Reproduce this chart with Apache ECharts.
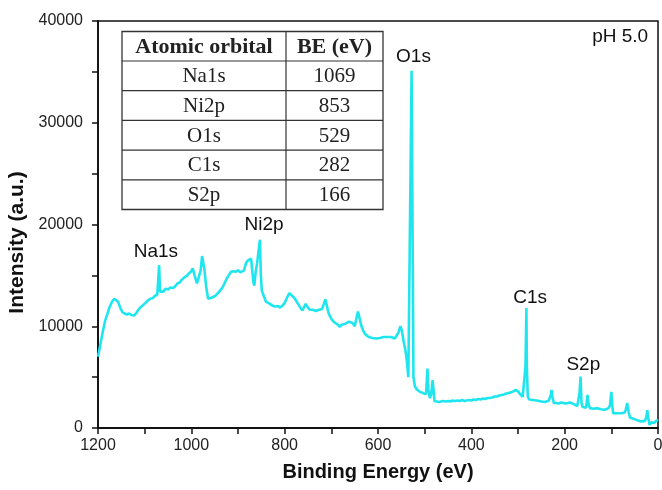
<!DOCTYPE html>
<html>
<head>
<meta charset="utf-8">
<script src="https://cdn.jsdelivr.net/npm/echarts@6/dist/echarts.min.js"></script>
<style>html,body{margin:0;padding:0;background:#fff;}#c{width:662px;height:490px;}</style>
</head>
<body>
<div id="c"></div>
<script>
// Binding energy (eV) and intensity (a.u.)
var bindingEnergy = [1200,1195,1190,1185,1180,1175,1170,1165,1161,1157,1153,1148,1143,1138,1133,1128,1123,1118,1113,1108,1103,1098,1093,1088,1083,1078,1073,1070,1069,1068,1067,1064,1060,1055,1050,1045,1040,1035,1030,1025,1020,1015,1010,1005,1000,997,993,988,984,980,977,975,972,968,964,961,957,953,948,944,940,935,930,925,920,915,910,905,900,895,891,887,883,879,876,872,869,867,865,862,859,856,853,851,849,845,840,835,830,825,820,815,810,805,800,795,790,786,782,778,774,770,766,762,758,755,751,747,743,738,733,728,724,720,716,713,710,706,702,698,694,690,686,682,678,674,670,666,662,658,654,650,647,643,640,636,632,628,624,620,616,612,608,604,600,596,592,588,584,580,576,572,568,564,560,556,552,549,545,541,538,535,531,528,524,521,517,512,507,502,497,494,492,489,486,483,481,479,475,470,465,460,455,450,445,440,435,430,425,420,415,410,405,400,395,390,385,380,375,370,365,360,355,350,345,340,335,330,325,320,315,310,305,300,295,290,286,284,282,281,279,276,272,268,264,260,255,250,246,242,238,234,230,228,226,223,218,213,208,203,198,193,188,183,178,173,170,168,166,164,162,158,154,151,149,146,142,138,134,130,126,122,118,114,110,106,103,100,98,96,92,88,84,80,76,72,69,66,63,60,56,52,48,44,40,36,32,28,25,23,21,18,15,12,8,4,0];
var intensity = [7000,8200,9400,10500,11200,11900,12400,12700,12700,12400,11900,11400,11250,11150,11250,11100,11050,11300,11650,11900,12100,12300,12550,12700,12750,13000,13100,13250,16000,15900,13400,13500,13400,13700,13600,13800,13750,13900,14200,14300,14600,14800,14950,15200,15400,15700,15000,14200,14100,15500,16900,16950,15600,13800,12700,12550,12800,12700,13000,13200,13350,13700,14100,14600,15000,15350,15400,15350,15500,15300,15200,15500,16200,16450,16300,16650,16600,14300,14000,15400,16200,16300,18500,15000,13500,13000,12400,12300,12150,12000,11950,12000,11850,12000,12300,12800,13250,13200,12900,12700,12400,12100,11800,11550,11900,12200,11900,11650,11550,11600,11500,11600,11550,11700,12200,12650,12100,11300,10900,10600,10400,10300,10150,9950,10150,10300,10250,10400,10450,10300,10300,10000,10600,11450,10900,10100,9600,9250,9100,8950,8900,8850,8950,8800,8950,8850,9000,8950,9050,8950,9000,8950,8850,8800,8850,9400,10000,9600,8500,7600,6500,5000,4900,35100,5000,4100,3800,3600,3500,3400,3350,5850,3800,2950,3300,4700,3800,2650,2600,2550,2600,2650,2600,2650,2600,2700,2650,2700,2650,2750,2650,2700,2750,2700,2800,2750,2850,2800,2900,2850,2950,2950,3000,3100,3100,3200,3250,3300,3400,3450,3500,3600,3750,3600,3300,3050,2950,6000,11800,6000,3100,2800,2850,2750,2800,2700,2650,2600,2600,2550,2600,2700,3200,3750,3000,2450,2450,2400,2500,2450,2400,2450,2500,2400,2300,2150,2100,3500,5050,2500,2100,2150,2000,3250,2400,1950,2000,1900,1950,1950,1900,1850,1900,1800,1850,1950,2200,3550,2200,1450,1500,1450,1400,1450,1400,1500,1800,2450,1600,1000,950,900,800,750,700,650,650,700,1100,1750,1000,300,550,600,500,700,800];

// Peak annotations (label text and where it sits, in data units)
var peakLabels = ['Na1s','Ni2p','O1s','C1s','S2p','pH 5.0'];
var peakLabelBE = [1076,844,524,274,160,81];
var peakLabelY = [17290,20010,36500,12830,6250,38430];

// Inset table
var tableHeaders = ['Atomic orbital','BE (eV)'];
var tableOrbitals = ['Na1s','Ni2p','O1s','C1s','S2p'];
var tableBE = ['1069','853','529','282','166'];

// Axis ticks
var xTicks = {min:0, max:1200, interval:200};
var yTicks = {min:0, max:40000, interval:10000};

var seriesData = bindingEnergy.map(function(e,i){return [e, intensity[i]];});
var markData = peakLabels.map(function(n,i){return {name:n, coord:[peakLabelBE[i], peakLabelY[i]]};});

// table graphic (layout only)
var tL=122, tR=383, tC=286, tT=31.5, rowH=[29.5,29.7,29.7,29.7,29.7,29.7];
var tableEls=[];
var rowsY=[tT]; for(var r=0;r<rowH.length;r++){rowsY.push(rowsY[r]+rowH[r]);}
var tB=rowsY[rowsY.length-1];
tableEls.push({type:'rect',shape:{x:tL,y:tT,width:tR-tL,height:tB-tT},style:{fill:'#fff',stroke:'#333',lineWidth:1.3}});
tableEls.push({type:'line',shape:{x1:tC,y1:tT,x2:tC,y2:tB},style:{stroke:'#333',lineWidth:1.2}});
for(var r2=1;r2<rowsY.length-1;r2++){
  tableEls.push({type:'line',shape:{x1:tL,y1:rowsY[r2],x2:tR,y2:rowsY[r2]},style:{stroke:'#333',lineWidth:1.2}});
}
var rowsText=[tableHeaders].concat(tableOrbitals.map(function(o,i){return [o,tableBE[i]];}));
rowsText.forEach(function(row,ri){
  var cy=(rowsY[ri]+rowsY[ri+1])/2+1;
  var bold = ri===0;
  var f=(bold?'bold 22px':'21px')+' "Liberation Serif", "Times New Roman", serif';
  tableEls.push({type:'text',x:(tL+tC)/2,y:cy,style:{text:row[0],fill:'#222',font:f,align:'center',verticalAlign:'middle'}});
  tableEls.push({type:'text',x:(tC+tR)/2,y:cy,style:{text:row[1],fill:'#222',font:f,align:'center',verticalAlign:'middle'}});
});

var chart = echarts.init(document.getElementById('c'), null, {renderer:'canvas'});
var axisTxt = {color:'#222', fontSize:16, fontFamily:'"Liberation Sans", Arial, sans-serif', formatter:function(v){return String(v);}};
chart.setOption({
  animation:false,
  backgroundColor:'#fff',
  grid:{left:98, right:4, top:21, bottom:62, show:true, borderColor:'#111', borderWidth:1.5, backgroundColor:'transparent', outerBoundsMode:'none', containLabel:false},
  xAxis:{type:'value', inverse:true, min:xTicks.min, max:xTicks.max, interval:xTicks.interval,
    name:'Binding Energy (eV)', nameLocation:'middle', nameGap:34,
    nameTextStyle:{color:'#111', fontSize:20, fontWeight:'bold', fontFamily:'"Liberation Sans", Arial, sans-serif'},
    axisLine:{onZero:false, lineStyle:{color:'#111', width:1.8}},
    axisTick:{show:true, inside:false, length:6, lineStyle:{color:'#111', width:1.5}},
    minorTick:{show:true, splitNumber:2, length:6, lineStyle:{color:'#111', width:1.5}},
    splitLine:{show:false},
    axisLabel:Object.assign({margin:10, showMinLabel:true, showMaxLabel:true}, axisTxt)},
  yAxis:{type:'value', min:yTicks.min, max:yTicks.max, interval:yTicks.interval,
    name:'Intensity (a.u.)', nameLocation:'middle', nameGap:68,
    nameTextStyle:{color:'#111', fontSize:21, fontWeight:'bold', fontFamily:'"Liberation Sans", Arial, sans-serif', padding:[0,36,0,0]},
    axisLine:{show:true, onZero:false, lineStyle:{color:'#111', width:1.8}},
    axisTick:{show:true, inside:false, length:6, lineStyle:{color:'#111', width:1.5}},
    minorTick:{show:true, splitNumber:2, length:6, lineStyle:{color:'#111', width:1.5}},
    splitLine:{show:false},
    axisLabel:Object.assign({margin:15}, axisTxt)},
  series:[{
    type:'line', data:seriesData, showSymbol:false, symbol:'none',
    lineStyle:{color:'#1FE6EE', width:2.6}, itemStyle:{color:'#1FE6EE'},
    markPoint:{symbol:'circle', symbolSize:0, silent:true,
      label:{show:true, position:'inside', formatter:'{b}', color:'#111', fontSize:19, fontFamily:'"Liberation Sans", Arial, sans-serif'},
      data:markData}
  }],
  graphic:tableEls
});
</script>
</body>
</html>
